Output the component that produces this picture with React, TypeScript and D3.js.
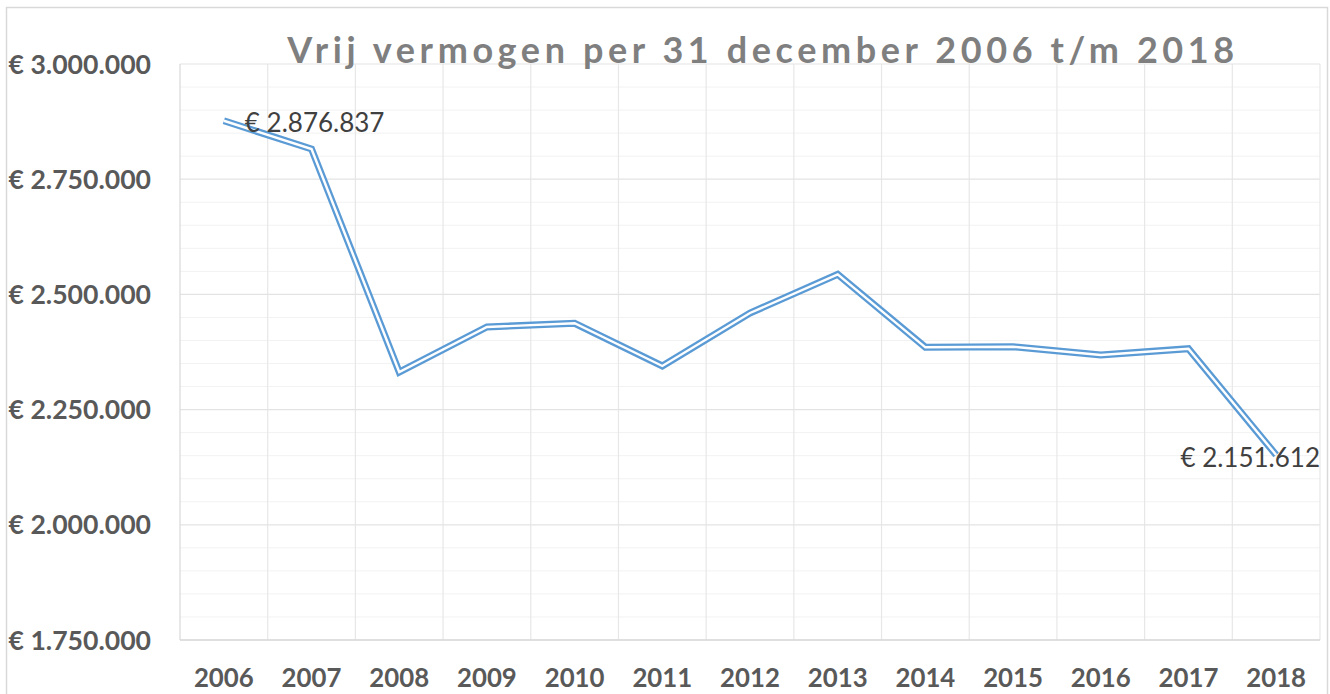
import React from "react";
import * as d3 from "d3";

const years = ["2006","2007","2008","2009","2010","2011","2012","2013","2014","2015","2016","2017","2018"];
const values = [2876837, 2815500, 2331600, 2429300, 2437300, 2344600, 2459600, 2543600, 2385200, 2386500, 2368500, 2382200, 2151612];
const yTicks = [1750000, 2000000, 2250000, 2500000, 2750000, 3000000];
const minorStep = 50000;
const labelledIdx = [0, 12];
const title = "Vrij vermogen per 31 december 2006 t/m 2018";

const W = 1330, H = 694;
const M = { left: 180, right: 1320, top: 64, bottom: 640 };
const FONT = "Lato, 'Open Sans', sans-serif";

const fmt = (v: number) => "€ " + d3.format(",")(v).replace(/,/g, ".");

export default function App() {
  const x = d3.scaleBand<string>().domain(years).range([M.left, M.right]).paddingInner(0).paddingOuter(0);
  const y = d3.scaleLinear().domain([1750000, 3000000]).range([M.bottom, M.top]);
  const cx = (yr: string) => (x(yr) as number) + x.bandwidth() / 2;
  const minor = d3.range(1750000, 3000001, minorStep).filter((v) => !yTicks.includes(v));
  const line = d3.line<number>().x((_, i) => cx(years[i])).y((v) => y(v));
  const path = line(values) || "";

  return (
    <svg width={W} height={H} style={{ position: "absolute", left: 0, top: 0, background: "#fff" }}>
      <rect x={6.5} y={7.5} width={1321} height={700} fill="#fff" stroke="#D9D9D9" strokeWidth={1.5} />
      {minor.map((v) => (
        <line key={"m" + v} x1={M.left} x2={M.right} y1={y(v)} y2={y(v)} stroke="#F2F2F2" strokeWidth={1} />
      ))}
      {years.slice(1).map((yr) => (
        <line key={"v" + yr} x1={x(yr)} x2={x(yr)} y1={M.top} y2={M.bottom} stroke="#E7E7E7" strokeWidth={1.2} />
      ))}
      {yTicks.map((v) => (
        <line key={"M" + v} x1={M.left} x2={M.right} y1={y(v)} y2={y(v)} stroke="#E3E3E3" strokeWidth={1.2} />
      ))}
      <line x1={M.left} x2={M.left} y1={M.top} y2={M.bottom} stroke="#D9D9D9" strokeWidth={1.2} />
      <line x1={M.right} x2={M.right} y1={M.top} y2={M.bottom} stroke="#E7E7E7" strokeWidth={1.2} />
      <line x1={M.left} x2={M.right} y1={M.bottom} y2={M.bottom} stroke="#D9D9D9" strokeWidth={1.5} />

      <text x={763} y={63} textAnchor="middle" fontFamily={FONT} fontWeight="bold" fontSize={36} fill="#7F7F7F" letterSpacing={4.6}>
        {title}
      </text>

      {yTicks.map((v) => (
        <text key={"t" + v} x={151} y={y(v)} dy="0.36em" textAnchor="end" fontFamily={FONT} fontWeight="bold" fontSize={26.6} fill="#595959">
          {fmt(v)}
        </text>
      ))}
      {years.map((yr) => (
        <text key={"x" + yr} x={cx(yr)} y={678} dy="0.36em" textAnchor="middle" fontFamily={FONT} fontWeight="bold" fontSize={25.8} fill="#595959">
          {yr}
        </text>
      ))}

      <path d={path} fill="none" stroke="#5B9BD5" strokeWidth={7} strokeLinejoin="miter" />
      <path d={path} fill="none" stroke="#fff" strokeWidth={2.4} strokeLinejoin="miter" />

      {labelledIdx.map((i) => {
        const px = cx(years[i]);
        const py = y(values[i]);
        const last = i === years.length - 1;
        return (
          <text key={"l" + i} x={last ? M.right : px + 21} y={py + (last ? 3 : 2)} dy="0.36em" textAnchor={last ? "end" : "start"}
            fontFamily={FONT} fontSize={26} fill="#404040">
            {fmt(values[i])}
          </text>
        );
      })}
    </svg>
  );
}
